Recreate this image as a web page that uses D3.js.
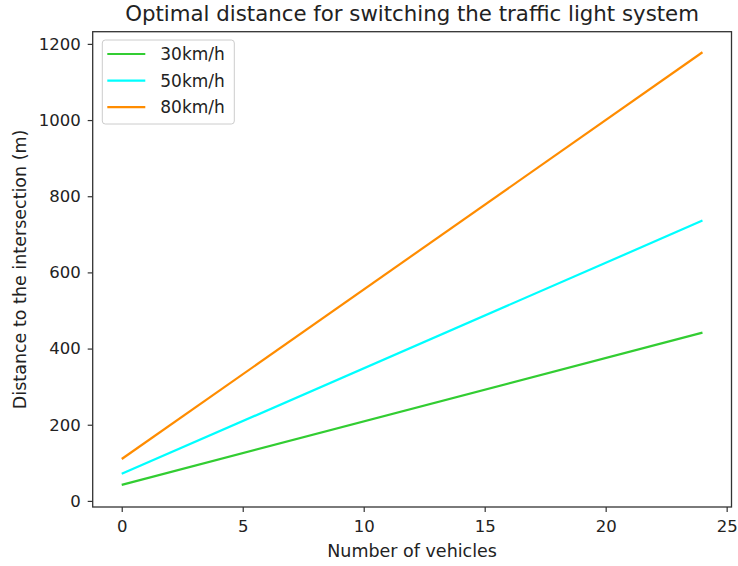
<!DOCTYPE html>
<html>
<head>
<meta charset="utf-8">
<script src="https://cdn.jsdelivr.net/npm/d3@7"></script>
<style>
  body { margin: 0; background: #fff; }
  text { font-family: "DejaVu Sans", sans-serif; fill: #222; }
</style>
</head>
<body>
<svg id="chart" width="738" height="566"></svg>
<script>
"use strict";
// values (first and last vehicle count)
var vehicles = [0, 24];
var speed30 = [42, 442];
var speed50 = [71, 736];
var speed80 = [110, 1178];
var seriesNames = ['30km/h', '50km/h', '80km/h'];
var seriesColors = ['limegreen', 'cyan', 'darkorange'];
var xTicks = [0, 5, 10, 15, 20, 25];
var yTicks = [0, 200, 400, 600, 800, 1000, 1200];

var series = [speed30, speed50, speed80].map(function (vals, i) {
    return {
        name: seriesNames[i],
        color: seriesColors[i],
        points: vals.map(function (v, j) { return [vehicles[j], v]; })
    };
});

var svg = d3.select('#chart');
var plotLeft = 92.7, plotRight = 731.5, plotTop = 31.7, plotBottom = 507;

var x = d3.scaleLinear().domain([-1.2, 25.2]).range([plotLeft, plotRight]);
var y = d3.scaleLinear().domain([-16, 1232]).range([plotBottom, plotTop]);

function styleAxis(g) {
    g.select('.domain').remove();
    g.selectAll('.tick line').attr('stroke', '#333').attr('stroke-width', 1.2);
    g.selectAll('.tick text').style('font-size', '16.5px').attr('fill', '#222');
}

svg.append('g')
    .attr('transform', 'translate(0,' + plotBottom + ')')
    .call(d3.axisBottom(x).tickValues(xTicks).tickFormat(d3.format('d'))
        .tickSize(5).tickPadding(8))
    .call(styleAxis);

svg.append('g')
    .attr('transform', 'translate(' + plotLeft + ',0)')
    .call(d3.axisLeft(y).tickValues(yTicks).tickFormat(d3.format('d'))
        .tickSize(5).tickPadding(7))
    .call(styleAxis);

var line = d3.line()
    .x(function (d) { return x(d[0]); })
    .y(function (d) { return y(d[1]); });

svg.append('g').selectAll('path')
    .data(series)
    .enter().append('path')
    .attr('d', function (d) { return line(d.points); })
    .attr('fill', 'none')
    .attr('stroke', function (d) { return d.color; })
    .attr('stroke-width', 2.2);

// frame
svg.append('rect')
    .attr('x', plotLeft).attr('y', plotTop)
    .attr('width', plotRight - plotLeft).attr('height', plotBottom - plotTop)
    .attr('fill', 'none')
    .attr('stroke', '#333')
    .attr('stroke-width', 1.3);

// legend
var legend = svg.append('g').attr('transform', 'translate(102.3,40)');
legend.append('rect')
    .attr('width', 132).attr('height', 84)
    .attr('rx', 3)
    .attr('fill', '#fff')
    .attr('fill-opacity', 0.8)
    .attr('stroke', '#ccc');
var item = legend.selectAll('g.item')
    .data(series)
    .enter().append('g')
    .attr('class', 'item')
    .attr('transform', function (d, i) { return 'translate(0,' + (14 + i * 26.6) + ')'; });
item.append('line')
    .attr('x1', 5).attr('x2', 43)
    .attr('stroke', function (d) { return d.color; })
    .attr('stroke-width', 2.2);
item.append('text')
    .attr('x', 58).attr('dy', '0.35em')
    .style('font-size', '17px')
    .text(function (d) { return d.name; });

// titles
svg.append('text')
    .attr('x', (plotLeft + plotRight) / 2).attr('y', 21)
    .attr('text-anchor', 'middle')
    .style('font-size', '21.3px')
    .text('Optimal distance for switching the traffic light system');

svg.append('text')
    .attr('x', (plotLeft + plotRight) / 2).attr('y', 557)
    .attr('text-anchor', 'middle')
    .style('font-size', '17.5px')
    .text('Number of vehicles');

svg.append('text')
    .attr('transform', 'translate(26,' + ((plotTop + plotBottom) / 2) + ') rotate(-90)')
    .attr('text-anchor', 'middle')
    .style('font-size', '17.5px')
    .text('Distance to the intersection (m)');
</script>
</body>
</html>
